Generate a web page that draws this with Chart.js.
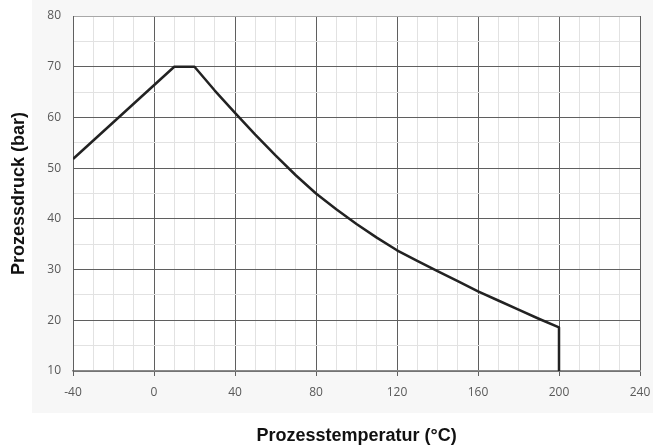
<!DOCTYPE html>
<html>
<head>
<meta charset="utf-8">
<script src="https://cdn.jsdelivr.net/npm/chart.js@4"></script>
<style>
    html, body { margin: 0; padding: 0; background: #fff; }
    #wrap { width: 653px; height: 446px; position: relative; }
</style>
</head>
<body>
<div id="wrap"><canvas id="druckChart"></canvas></div>
<script>
// Prozesstemperatur (°C) / Prozessdruck (bar)
const tempC    = [-40, 10, 20, 30, 40, 50, 60, 70, 80, 90, 100, 110, 120, 130, 140, 150, 160, 170, 180, 190, 200, 200]
const druckBar = [51.8, 70, 70, 65.3, 60.9, 56.6, 52.5, 48.6, 45.0, 41.9, 39.0, 36.3, 33.8, 31.7, 29.7, 27.7, 25.7, 23.9, 22.1, 20.3, 18.6, 10]

const xMin = -40, xMax = 240, xStep = 10, xMajor = 40
const yMin = 10, yMax = 80, yStep = 5, yMajor = 10

const majorColor = '#5f5f5f'
const minorColor = '#e2e2e2'

// grauer Hintergrund hinter dem Diagramm, Plotfläche weiß
const bgPlugin = {
    id: 'bg',
    beforeDraw(chart) {
        const {ctx, chartArea} = chart
        ctx.save()
        ctx.fillStyle = '#f7f7f7'
        ctx.fillRect(32, 0, chart.width - 32, 413)
        ctx.fillStyle = '#ffffff'
        ctx.fillRect(chartArea.left, chartArea.top, chartArea.right - chartArea.left, chartArea.bottom - chartArea.top)
        ctx.restore()
    }
}

const ctx = document.getElementById('druckChart').getContext('2d')

new Chart(ctx, {
    type: 'scatter',
    data: {
        datasets: [{
            data: tempC.map((t, i) => ({x: t, y: druckBar[i]})),
            showLine: true,
            borderColor: '#222222',
            borderWidth: 2.5,
            borderJoinStyle: 'round',
            pointRadius: 0,
            tension: 0
        }]
    },
    options: {
        responsive: true,
        maintainAspectRatio: false,
        animation: false,
        layout: {
            padding: {top: 16, right: 13, left: 0, bottom: 0}
        },
        plugins: {
            legend: { display: false },
            tooltip: { enabled: false }
        },
        scales: {
            x: {
                type: 'linear',
                min: xMin,
                max: xMax,
                afterFit: (scale) => {
                    scale.height = 75
                    scale.paddingLeft = 0
                    scale.paddingRight = 0
                },
                ticks: {
                    stepSize: xStep,
                    autoSkip: false,
                    maxRotation: 0,
                    padding: 9,
                    color: '#595959',
                    font: { family: 'Open Sans', size: 12 },
                    callback: (v) => v % xMajor === 0 ? v : ''
                },
                grid: {
                    tickLength: 5,
                    color: (c) => c.tick && c.tick.value % xMajor === 0 ? majorColor : minorColor,
                    tickColor: (c) => c.tick && c.tick.value % xMajor === 0 ? majorColor : 'rgba(0,0,0,0)'
                },
                border: { color: '#8a8a8a', width: 1.5 },
                title: {
                    display: true,
                    text: 'Prozesstemperatur (°C)',
                    color: '#111',
                    font: { family: 'Liberation Sans', size: 18, weight: 'bold' },
                    padding: { top: 0, bottom: -1 }
                }
            },
            y: {
                min: yMin,
                max: yMax,
                afterFit: (scale) => {
                    scale.width = 73
                    scale.paddingTop = 0
                    scale.paddingBottom = 0
                },
                ticks: {
                    stepSize: yStep,
                    autoSkip: false,
                    padding: 12,
                    color: '#595959',
                    font: { family: 'Open Sans', size: 12 },
                    callback: (v) => v % yMajor === 0 ? v : ''
                },
                grid: {
                    drawTicks: false,
                    color: (c) => {
                        if (!c.tick) return minorColor
                        if (c.tick.value === yMax) return '#a8a8a8'
                        return c.tick.value % yMajor === 0 ? majorColor : minorColor
                    }
                },
                border: { color: majorColor },
                title: {
                    display: true,
                    text: 'Prozessdruck (bar)',
                    color: '#111',
                    font: { family: 'Liberation Sans', size: 18, weight: 'bold' },
                    padding: { top: 8, bottom: 0 }
                }
            }
        }
    },
    plugins: [bgPlugin]
})
</script>
</body>
</html>
